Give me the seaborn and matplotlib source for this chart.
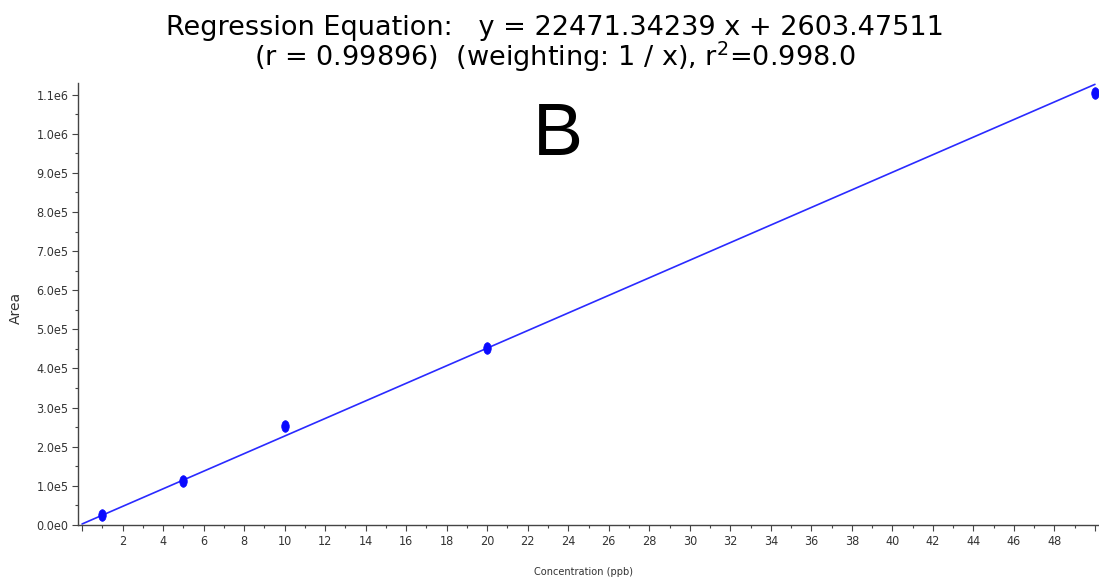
import matplotlib
matplotlib.use("Agg")
import matplotlib.pyplot as plt
from matplotlib.markers import MarkerStyle
from matplotlib.transforms import Affine2D
from matplotlib.ticker import MultipleLocator, FuncFormatter
import numpy as np
import pandas as pd
import seaborn as sns

# Calibration standards (ppb) and measured peak areas
concentration = [1, 5, 10, 20, 50]
area = [25600, 113000, 253000, 452500, 1104000]

# Weighted (1/x) linear fit
slope = 22471.34239
intercept = 2603.47511
fit_x = [0, 50]
fit_y = [slope * v + intercept for v in fit_x]

title_lines = [
    "Regression Equation:   y = 22471.34239 x + 2603.47511",
    "(r = 0.99896)  (weighting: 1 / x), r$^2$=0.998.0",
]
panel_letter = "B"
x_label = "Concentration (ppb)"
y_label = "Area"

sns.set_style("ticks")
plt.rcParams["font.family"] = ["Liberation Sans", "DejaVu Sans"]
plt.rcParams["mathtext.fontset"] = "dejavusans"

fig = plt.figure(figsize=(10.99, 5.81), dpi=100)
ax = fig.add_axes([0.071, 0.0964, 0.929, 0.761])

points = pd.DataFrame({"conc": concentration, "area": area})
fit = pd.DataFrame({"conc": fit_x, "area": fit_y})

sns.lineplot(data=fit, x="conc", y="area", ax=ax, color="#2a2aff", linewidth=1.2)
oval = MarkerStyle("o", transform=Affine2D().scale(0.65, 1.0))
sns.scatterplot(data=points, x="conc", y="area", ax=ax, marker=oval, s=70,
                color="#0a0aff", edgecolor="#0a0aff", linewidth=0.5, zorder=3)

ax.set_xlim(-0.2, 50.2)
ax.set_ylim(0, 1.13e6)

ax.xaxis.set_major_locator(MultipleLocator(2))
ax.xaxis.set_minor_locator(MultipleLocator(1))
ax.yaxis.set_major_locator(MultipleLocator(1e5))
ax.yaxis.set_minor_locator(MultipleLocator(5e4))

def x_fmt(v, _):
    iv = int(round(v))
    return "" if iv <= 0 or iv >= 50 else str(iv)

def y_fmt(v, _):
    if v <= 0:
        return "0.0e0"
    exp = int(np.floor(np.log10(v) + 1e-9))
    return f"{v / 10 ** exp:.1f}e{exp}"

ax.xaxis.set_major_formatter(FuncFormatter(x_fmt))
ax.yaxis.set_major_formatter(FuncFormatter(y_fmt))

narrow = ["DejaVu Sans"]
for lab in ax.get_xticklabels() + ax.get_yticklabels():
    lab.set_fontfamily(narrow)
    lab.set_fontstretch("condensed")
    lab.set_fontsize(9)
    lab.set_color("#333333")

ax.tick_params(axis="both", which="major", length=4, width=0.8, color="#444444", pad=3)
ax.tick_params(axis="both", which="minor", length=2.5, width=0.8, color="#444444")

sns.despine(ax=ax)
for side in ("left", "bottom"):
    ax.spines[side].set_color("#444444")
    ax.spines[side].set_linewidth(1.0)

ax.set_xlabel(x_label, fontsize=7.8, family=narrow, fontstretch="condensed",
              color="#333333")
ax.xaxis.set_label_coords(0.495, -0.095)
ax.set_ylabel(y_label, fontsize=10, family=["DejaVu Sans"], color="#333333")
ax.yaxis.set_label_coords(-0.054, 0.49)

fig.text(0.505, 0.94, title_lines[0], ha="center", va="baseline", fontsize=19.5,
         family=["DejaVu Sans"], color="black")
fig.text(0.505, 0.886, title_lines[1], ha="center", va="baseline", fontsize=19.5,
         family=["DejaVu Sans"], color="black")

fig.text(0.508, 0.766, panel_letter, ha="center", va="center", fontsize=54, color="black")

fig.savefig("out.png", dpi=100)
